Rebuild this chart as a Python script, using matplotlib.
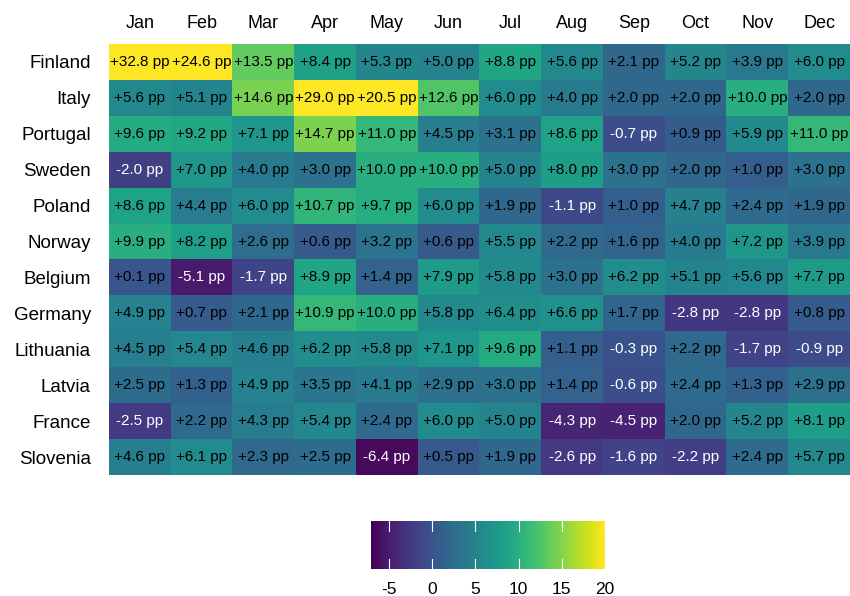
import numpy as np
import matplotlib
matplotlib.use("Agg")
import matplotlib.pyplot as plt
from matplotlib.colors import Normalize

plt.rcParams['font.family'] = ['Liberation Sans', 'DejaVu Sans']

# Data: change in percentage points by country and month
countries = ["Finland", "Italy", "Portugal", "Sweden", "Poland", "Norway",
             "Belgium", "Germany", "Lithuania", "Latvia", "France", "Slovenia"]
months = ["Jan", "Feb", "Mar", "Apr", "May", "Jun",
          "Jul", "Aug", "Sep", "Oct", "Nov", "Dec"]

finland   = [32.8, 24.6, 13.5, 8.4, 5.3, 5.0, 8.8, 5.6, 2.1, 5.2, 3.9, 6.0]
italy     = [5.6, 5.1, 14.6, 29.0, 20.5, 12.6, 6.0, 4.0, 2.0, 2.0, 10.0, 2.0]
portugal  = [9.6, 9.2, 7.1, 14.7, 11.0, 4.5, 3.1, 8.6, -0.7, 0.9, 5.9, 11.0]
sweden    = [-2.0, 7.0, 4.0, 3.0, 10.0, 10.0, 5.0, 8.0, 3.0, 2.0, 1.0, 3.0]
poland    = [8.6, 4.4, 6.0, 10.7, 9.7, 6.0, 1.9, -1.1, 1.0, 4.7, 2.4, 1.9]
norway    = [9.9, 8.2, 2.6, 0.6, 3.2, 0.6, 5.5, 2.2, 1.6, 4.0, 7.2, 3.9]
belgium   = [0.1, -5.1, -1.7, 8.9, 1.4, 7.9, 5.8, 3.0, 6.2, 5.1, 5.6, 7.7]
germany   = [4.9, 0.7, 2.1, 10.9, 10.0, 5.8, 6.4, 6.6, 1.7, -2.8, -2.8, 0.8]
lithuania = [4.5, 5.4, 4.6, 6.2, 5.8, 7.1, 9.6, 1.1, -0.3, 2.2, -1.7, -0.9]
latvia    = [2.5, 1.3, 4.9, 3.5, 4.1, 2.9, 3.0, 1.4, -0.6, 2.4, 1.3, 2.9]
france    = [-2.5, 2.2, 4.3, 5.4, 2.4, 6.0, 5.0, -4.3, -4.5, 2.0, 5.2, 8.1]
slovenia  = [4.6, 6.1, 2.3, 2.5, -6.4, 0.5, 1.9, -2.6, -1.6, -2.2, 2.4, 5.7]

values = np.array([finland, italy, portugal, sweden, poland, norway,
                   belgium, germany, lithuania, latvia, france, slovenia])

vmin, vmax = -7.1, 20
norm = Normalize(vmin=vmin, vmax=vmax, clip=True)
cmap = plt.get_cmap("viridis")

fig = plt.figure(figsize=(8.5, 5.96), dpi=100)
ax = fig.add_axes([109 / 850, 1 - 475 / 596, 741 / 850, 431 / 596])

ax.imshow(values, cmap=cmap, norm=norm, aspect="auto", interpolation="nearest")
for i in range(len(countries)):
    for j in range(len(months)):
        v = values[i, j]
        color = "white" if v < 0 else "black"
        label = f"{v:.1f} pp" if v < 0 else f"+{v:.1f} pp"
        ax.text(j, i, label, ha="center", va="center", fontsize=11, color=color)

ax.set_xticks(range(len(months)))
ax.set_xticklabels(months, fontsize=13)
ax.set_yticks(range(len(countries)))
ax.set_yticklabels(countries, fontsize=13.5)
ax.xaxis.tick_top()
ax.tick_params(axis="x", length=0, pad=9)
ax.tick_params(axis="y", length=0, pad=13)
for s in ax.spines.values():
    s.set_visible(False)

# Colorbar
cax = fig.add_axes([371 / 850, 1 - 569 / 596, 234 / 850, 48 / 596])
grad = np.linspace(vmin, vmax, 300).reshape(1, -1)
cax.imshow(grad, cmap=cmap, norm=norm, aspect="auto",
           extent=[vmin, vmax, 0, 1], interpolation="bilinear")
cbar_ticks = [-5, 0, 5, 10, 15, 20]
for t in cbar_ticks:
    cax.plot([t, t], [0, 0.2], color="white", lw=0.8)
    cax.plot([t, t], [0.8, 1], color="white", lw=0.8)
cax.set_xlim(vmin, vmax)
cax.set_ylim(0, 1)
cax.set_yticks([])
cax.set_xticks(cbar_ticks)
cax.set_xticklabels([str(t) for t in cbar_ticks], fontsize=12.5)
cax.tick_params(length=0, pad=9)
for s in cax.spines.values():
    s.set_visible(False)

fig.savefig("out.png", dpi=100)
